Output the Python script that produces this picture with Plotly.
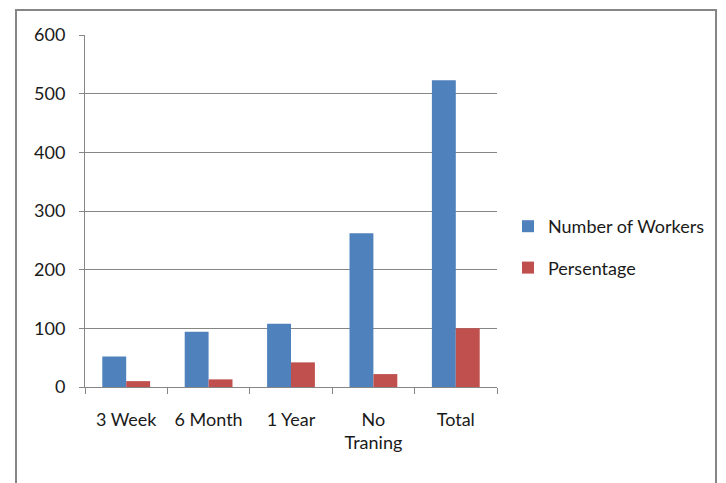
import plotly.graph_objects as go

categories = ["3 Week", "6 Month", "1 Year", "No<br>Traning", "Total"]
workers = [52, 94, 108, 262, 523]
percentage = [10, 13, 42, 22, 100]
y_ticks = [0, 100, 200, 300, 400, 500, 600]

W, H = 710, 483
OFF = 8  # page body margin offset
# target page pixel positions of plot area
PL, PR, PT, PB = 85, 497, 35, 387
L = PL - OFF
T = PT - OFF
R = W - (PR - OFF)
B = H - (PB - OFF)
pw, ph = W - L - R, H - T - B

def px_x(x):
    return (x - OFF - L) / pw

def px_y(y):
    return (H - B - (y - OFF)) / ph

fig = go.Figure()
fig.add_trace(go.Bar(x=categories, y=workers, name="Number of Workers",
                     marker=dict(color="#4F81BD", line=dict(width=0)),
                     legendgroup="a"))
fig.add_trace(go.Bar(x=categories, y=percentage, name="Persentage",
                     marker=dict(color="#C0504D", line=dict(width=0)),
                     legendgroup="b"))

fig.update_layout(
    width=W, height=H,
    margin=dict(l=L, r=R, t=T, b=B, autoexpand=False),
    paper_bgcolor="white", plot_bgcolor="white",
    barmode="group", bargap=0.42, bargroupgap=0,
    font=dict(family="Lato, Open Sans, sans-serif", size=18, color="#1a1a1a"),
    showlegend=True,
    legend=dict(x=px_x(508), y=px_y(247), xanchor="left", yanchor="middle",
                tracegroupgap=15, font=dict(size=18),
                itemwidth=30),
    xaxis=dict(type="category", showline=True, linecolor="#868686", linewidth=1,
               ticks="outside", tickson="boundaries", ticklen=6, tickcolor="#868686",
               showgrid=False, tickfont=dict(size=18), ticklabelstandoff=16),
    yaxis=dict(range=[0, 600], tickvals=y_ticks, showline=True, linecolor="#868686",
               linewidth=1, ticks="outside", ticklen=5, tickcolor="#868686",
               showgrid=True, gridcolor="#868686", gridwidth=1, zeroline=False,
               ticklabelstandoff=10, tickfont=dict(size=18)),
    shapes=[dict(type="rect", xref="paper", yref="paper",
                 x0=px_x(16), x1=px_x(716), y0=px_y(510), y1=px_y(10),
                 line=dict(color="#868686", width=2), fillcolor="rgba(0,0,0,0)",
                 layer="below")],
)

fig.write_html("out.html")
